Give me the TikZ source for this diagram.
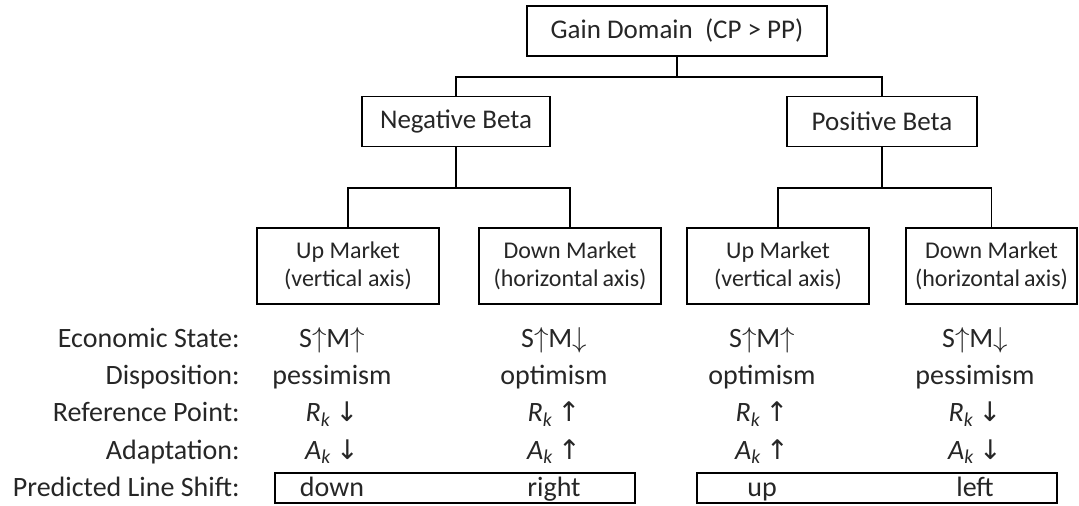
\documentclass[tikz,border=0pt]{standalone}
\usepackage{fontspec}
\setmainfont{Carlito}
\newfontfamily\arrowfont{DejaVu Sans}
\newcommand{\smup}{S$\uparrow$M$\uparrow$}
\newcommand{\smdown}{S$\uparrow$M$\downarrow$}
\newcommand{\kvar}[1]{\textit{#1}\textsubscript{\textit{k}}}
\newcommand{\arrU}{\,{\arrowfont\fontsize{13.5}{15}\selectfont ↑}}
\newcommand{\arrD}{\,{\arrowfont\fontsize{13.5}{15}\selectfont ↓}}

\begin{document}
\begin{tikzpicture}[x=0.5pt,y=-0.5pt]
\tikzstyle{box}=[draw,line width=0.8pt,inner sep=0pt,align=center,text=black!85]
\tikzstyle{bigbox}=[box,minimum height=25pt,font=\fontsize{13.5}{16}\selectfont]
\tikzstyle{mktbox}=[box,minimum width=91pt,minimum height=38pt,font=\fontsize{12}{14}\selectfont]
\tikzstyle{rowlabel}=[anchor=base east,inner sep=0pt,text=black!85,font=\fontsize{14}{16}\selectfont]
\tikzstyle{cell}=[anchor=base,inner sep=0pt,text=black!85,font=\fontsize{14}{16}\selectfont]
\tikzstyle{shiftbox}=[draw,line width=0.8pt,minimum width=180pt,minimum height=15pt,inner sep=0pt]
\tikzstyle{link}=[line width=0.8pt]

\useasboundingbox (0,0) rectangle (1079,506);

% tree
\node[bigbox,minimum width=150pt] (gain) at (677,31) {Gain Domain\ \ (CP > PP)};
\node[bigbox,minimum width=94pt]  (neg)  at (456,121.5) {Negative Beta};
\node[bigbox,minimum width=95pt]  (pos)  at (882,121.5) {Positive Beta};

\node[mktbox] (negup)   at (348,266) {Up Market\\(vertical axis)};
\node[mktbox] (negdown) at (570,266) {Down Market\\(horizontal\,axis)};
\node[mktbox] (posup)   at (778,266) {Up Market\\(vertical axis)};
\node[mktbox,minimum width=85.5pt] (posdown) at (991.5,266) {Down Market\\(horizontal\,axis)};

\draw[link] (gain.south) -- ++(0,20) -| (neg.north);
\draw[link] (gain.south) -- ++(0,20) -| (pos.north);
\draw[link] (neg.south) -- ++(0,41) -| (negup.north);
\draw[link] (neg.south) -- ++(0,41) -| (negdown.north);
\draw[link] (pos.south) -- ++(0,41) -| (posup.north);
\draw[link] (pos.south) -- ++(0,41) -| (posdown.north);

% rows
\node[rowlabel] (lstate) at (240,348) {Economic State:};
\node[rowlabel] (ldisp)  at (240,385) {Disposition:};
\node[rowlabel] (lref)   at (240,422) {Reference Point:};
\node[rowlabel] (ladapt) at (240,459) {Adaptation:};
\node[rowlabel] (lshift) at (240,496) {Predicted Line Shift:};

\node[cell] (s1) at (332,348) {\smup};
\node[cell] (s2) at (554,348) {\smdown};
\node[cell] (s3) at (762,348) {\smup};
\node[cell] (s4) at (975,348) {\smdown};

\node[cell] (d1) at (332,385) {pessimism};
\node[cell] (d2) at (554,385) {optimism};
\node[cell] (d3) at (762,385) {optimism};
\node[cell] (d4) at (975,385) {pessimism};

\node[cell] (r1) at (332,422) {\kvar{R}\arrD};
\node[cell] (r2) at (554,422) {\kvar{R}\arrU};
\node[cell] (r3) at (762,422) {\kvar{R}\arrU};
\node[cell] (r4) at (975,422) {\kvar{R}\arrD};

\node[cell] (a1) at (332,459) {\kvar{A}\arrD};
\node[cell] (a2) at (554,459) {\kvar{A}\arrU};
\node[cell] (a3) at (762,459) {\kvar{A}\arrU};
\node[cell] (a4) at (975,459) {\kvar{A}\arrD};

\node[shiftbox] (shiftneg) at (455,488) {};
\node[shiftbox] (shiftpos) at (877,488) {};
\node[cell] (p1) at (332,496) {down};
\node[cell] (p2) at (554,496) {right};
\node[cell] (p3) at (762,496) {up};
\node[cell] (p4) at (975,496) {left};
\end{tikzpicture}
\end{document}
